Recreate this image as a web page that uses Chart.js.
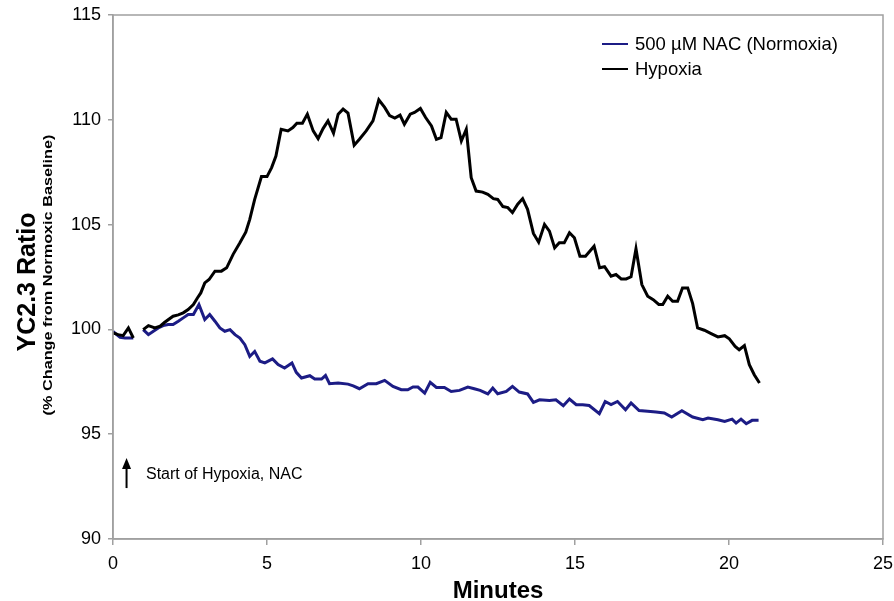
<!DOCTYPE html>
<html>
<head>
<meta charset="utf-8">
<script src="https://cdn.jsdelivr.net/npm/chart.js@4.4.1/dist/chart.umd.min.js"></script>
<style>
  html, body { margin: 0; padding: 0; background: #fff; }
  #wrap { width: 894px; height: 601px; }
</style>
</head>
<body>
<div id="wrap"><canvas id="c" width="894" height="601"></canvas></div>
<script>
// ---- data (minutes, % of normoxic baseline) ----
const hypoxiaTime = [0,0.17,0.33,0.5,0.66,0.8,0.98,1.15,1.36,1.53,1.68,1.95,2.12,2.28,2.44,2.61,2.74,2.85,2.98,3.12,3.31,3.52,3.69,3.90,4.12,4.31,4.44,4.60,4.82,5.00,5.15,5.29,5.46,5.68,5.84,5.97,6.15,6.31,6.50,6.66,6.82,6.98,7.16,7.31,7.47,7.63,7.83,8.00,8.22,8.44,8.63,8.82,8.98,9.15,9.32,9.46,9.65,9.79,9.98,10.15,10.34,10.50,10.65,10.82,10.98,11.14,11.31,11.47,11.63,11.79,12.0,12.17,12.35,12.49,12.66,12.82,12.97,13.14,13.30,13.46,13.65,13.82,14.01,14.17,14.34,14.49,14.65,14.82,14.98,15.16,15.34,15.62,15.80,15.96,16.17,16.33,16.50,16.66,16.82,16.98,17.17,17.36,17.54,17.72,17.85,18.01,18.17,18.33,18.49,18.66,18.82,18.98,19.20,19.42,19.64,19.86,20.01,20.20,20.33,20.50,20.66,20.82,20.99];
const hypoxiaValue = [99.83,99.75,99.7,100.07,99.59,null,99.99,100.18,100.07,100.15,100.34,100.63,100.69,100.79,100.95,101.19,101.5,101.74,102.22,102.38,102.78,102.78,102.94,103.58,104.13,104.64,105.25,106.2,107.29,107.29,107.72,108.27,109.55,109.47,109.63,109.84,109.84,110.27,109.47,109.1,109.58,109.95,109.36,110.27,110.51,110.32,108.79,109.07,109.47,109.95,110.95,110.59,110.2,110.08,110.22,109.79,110.27,110.35,110.54,110.11,109.71,109.07,109.15,110.35,110.03,110.03,108.99,109.55,107.24,106.6,106.55,106.44,106.24,106.2,105.86,105.81,105.57,105.97,106.24,105.73,104.58,104.16,105.01,104.69,103.89,104.13,104.13,104.61,104.37,103.49,103.49,103.97,102.94,102.99,102.54,102.62,102.41,102.41,102.51,103.85,102.14,101.58,101.42,101.19,101.19,101.58,101.34,101.34,101.98,101.98,101.23,100.07,99.96,99.8,99.64,99.7,99.55,99.19,99.03,99.23,98.32,97.84,97.44];

const nacTime = [0,0.23,0.39,0.66,0.8,0.98,1.15,1.31,1.47,1.63,1.79,1.95,2.12,2.28,2.44,2.61,2.79,2.98,3.14,3.31,3.47,3.63,3.80,3.96,4.12,4.28,4.44,4.60,4.77,4.93,5.18,5.36,5.57,5.81,5.95,6.12,6.39,6.55,6.77,6.90,7.03,7.31,7.63,7.80,8.00,8.28,8.55,8.82,9.09,9.36,9.57,9.74,9.90,10.12,10.30,10.50,10.76,10.98,11.25,11.52,11.73,11.92,12.17,12.33,12.49,12.77,12.97,13.19,13.46,13.65,13.85,14.17,14.38,14.62,14.82,15.04,15.25,15.46,15.79,15.98,16.17,16.38,16.64,16.82,17.08,17.36,17.63,17.90,18.14,18.47,18.82,19.15,19.32,19.64,19.86,20.10,20.23,20.39,20.56,20.75,20.96];
const nacValue = [99.9,99.62,99.59,99.59,null,99.99,99.75,99.91,100.07,100.18,100.23,100.23,100.39,100.55,100.71,100.71,101.19,100.47,100.71,100.39,100.07,99.91,99.99,99.75,99.59,99.27,98.71,98.95,98.48,98.4,98.59,98.32,98.16,98.4,97.95,97.68,97.79,97.63,97.63,97.8,97.41,97.44,97.39,97.31,97.17,97.41,97.41,97.57,97.28,97.12,97.12,97.25,97.25,96.96,97.47,97.23,97.23,97.04,97.09,97.25,97.17,97.09,96.92,97.2,96.93,97.04,97.28,97.01,96.92,96.52,96.64,96.61,96.64,96.36,96.68,96.41,96.41,96.37,95.98,96.56,96.41,96.56,96.17,96.49,96.13,96.09,96.06,96.01,95.82,96.12,95.82,95.69,95.77,95.69,95.61,95.72,95.53,95.72,95.5,95.66,95.66];

const seriesLabels = ['500 µM NAC (Normoxia)', 'Hypoxia'];
const xTicks = [0, 5, 10, 15, 20, 25];
const yTicks = [90, 95, 100, 105, 110, 115];
const xTitle = 'Minutes';
const yTitle = 'YC2.3 Ratio';
const ySubtitle = '(% Change from Normoxic Baseline)';
const noteText = 'Start of Hypoxia, NAC';
const noteArrow = { x: 0.44, yTip: 93.86, yTail: 92.43 };
const notePos = { x: 1.07, y: 93.05 };

const toPoints = (ts, vs) => ts.map((t, i) => ({ x: t, y: vs[i] }));

const FONT = 'Liberation Sans, Arial, Helvetica, sans-serif';
const AXIS_GRAY = '#a0a0a0';
const NAVY = '#1c1c85';

const decor = {
  id: 'decor',
  afterDraw(chart) {
    const ctx = chart.ctx;
    const a = chart.chartArea;
    const xs = chart.scales.x, ys = chart.scales.y;
    ctx.save();
    // plot frame
    ctx.strokeStyle = AXIS_GRAY;
    ctx.lineWidth = 1.5;
    ctx.strokeRect(a.left, a.top, a.right - a.left, a.bottom - a.top);

    // legend
    const lx = a.right - 281;
    const rows = [{ c: NAVY, t: seriesLabels[0], y: a.top + 29 }, { c: '#000', t: seriesLabels[1], y: a.top + 54 }];
    ctx.font = '18.5px ' + FONT;
    ctx.textBaseline = 'middle';
    ctx.textAlign = 'left';
    rows.forEach(r => {
      ctx.strokeStyle = r.c; ctx.lineWidth = 2;
      ctx.beginPath(); ctx.moveTo(lx, r.y); ctx.lineTo(lx + 26, r.y); ctx.stroke();
      ctx.fillStyle = '#000';
      ctx.fillText(r.t, lx + 33, r.y + 1);
    });

    // annotation arrow + note
    const ax = xs.getPixelForValue(noteArrow.x);
    const yTip = ys.getPixelForValue(noteArrow.yTip);
    const yTail = ys.getPixelForValue(noteArrow.yTail);
    ctx.strokeStyle = '#000'; ctx.lineWidth = 2;
    ctx.beginPath(); ctx.moveTo(ax, yTail); ctx.lineTo(ax, yTip + 6); ctx.stroke();
    ctx.fillStyle = '#000';
    ctx.beginPath(); ctx.moveTo(ax, yTip); ctx.lineTo(ax - 4.5, yTip + 11); ctx.lineTo(ax + 4.5, yTip + 11); ctx.closePath(); ctx.fill();
    ctx.font = '16px ' + FONT;
    ctx.textBaseline = 'middle';
    ctx.fillText(noteText, xs.getPixelForValue(notePos.x), ys.getPixelForValue(notePos.y));

    // axis titles
    ctx.font = 'bold 24px ' + FONT;
    ctx.textAlign = 'center';
    ctx.fillText(xTitle, (a.left + a.right) / 2, 591);

    ctx.save();
    ctx.translate(28, 282);
    ctx.rotate(-Math.PI / 2);
    ctx.font = 'bold 25px ' + FONT;
    ctx.fillText(yTitle, 0, 0);
    ctx.restore();

    ctx.save();
    ctx.translate(49, 275);
    ctx.rotate(-Math.PI / 2);
    ctx.scale(1.3, 1);
    ctx.font = 'bold 12.5px ' + FONT;
    ctx.fillText(ySubtitle, 0, 0);
    ctx.restore();

    ctx.restore();
  }
};

new Chart(document.getElementById('c'), {
  type: 'line',
  data: {
    datasets: [
      { label: seriesLabels[0], data: toPoints(nacTime, nacValue), borderColor: NAVY, borderWidth: 3, pointRadius: 0, tension: 0, spanGaps: false, order: 2 },
      { label: seriesLabels[1], data: toPoints(hypoxiaTime, hypoxiaValue), borderColor: '#000', borderWidth: 3, pointRadius: 0, tension: 0, spanGaps: false, order: 1 }
    ]
  },
  options: {
    responsive: false,
    animation: false,
    layout: { padding: { top: 15, right: 11, left: 0, bottom: 0 } },
    plugins: { legend: { display: false }, tooltip: { enabled: false } },
    scales: {
      x: {
        type: 'linear', min: 0, max: 25,
        afterBuildTicks: s => { s.ticks = xTicks.map(v => ({ value: v })); },
        afterFit: s => { s.height = 62; s.paddingLeft = 0; s.paddingRight = 0; },
        ticks: { color: '#000', font: { size: 18, family: FONT }, padding: 8, maxRotation: 0 },
        grid: { drawOnChartArea: false, drawTicks: true, tickLength: 6, color: AXIS_GRAY, lineWidth: 1.5 },
        border: { color: AXIS_GRAY, width: 1.5 }
      },
      y: {
        min: 90, max: 115,
        afterBuildTicks: s => { s.ticks = yTicks.map(v => ({ value: v })); },
        afterFit: s => { s.width = 113; s.paddingTop = 0; s.paddingBottom = 0; },
        ticks: { color: '#000', font: { size: 18, family: FONT }, padding: 7 },
        grid: { drawOnChartArea: false, drawTicks: true, tickLength: 5, color: AXIS_GRAY, lineWidth: 1.5 },
        border: { color: AXIS_GRAY, width: 1.5 }
      }
    }
  },
  plugins: [decor]
});
</script>
</body>
</html>
